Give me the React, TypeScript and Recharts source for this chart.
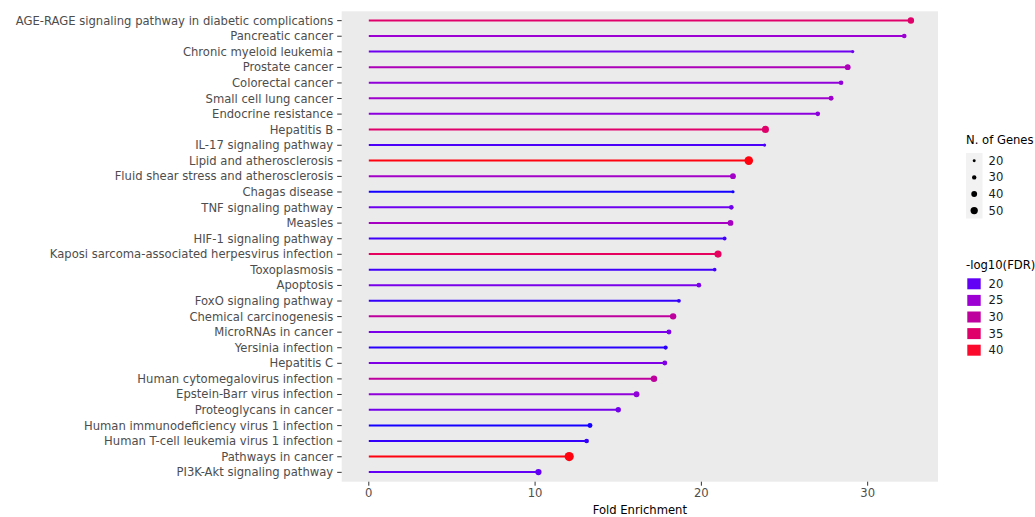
import React from "react";
import { Bar, CartesianGrid, ComposedChart, Label, XAxis, YAxis } from "recharts";

const PATHWAYS = [
  "AGE-RAGE signaling pathway in diabetic complications",
  "Pancreatic cancer",
  "Chronic myeloid leukemia",
  "Prostate cancer",
  "Colorectal cancer",
  "Small cell lung cancer",
  "Endocrine resistance",
  "Hepatitis B",
  "IL-17 signaling pathway",
  "Lipid and atherosclerosis",
  "Fluid shear stress and atherosclerosis",
  "Chagas disease",
  "TNF signaling pathway",
  "Measles",
  "HIF-1 signaling pathway",
  "Kaposi sarcoma-associated herpesvirus infection",
  "Toxoplasmosis",
  "Apoptosis",
  "FoxO signaling pathway",
  "Chemical carcinogenesis",
  "MicroRNAs in cancer",
  "Yersinia infection",
  "Hepatitis C",
  "Human cytomegalovirus infection",
  "Epstein-Barr virus infection",
  "Proteoglycans in cancer",
  "Human immunodeficiency virus 1 infection",
  "Human T-cell leukemia virus 1 infection",
  "Pathways in cancer",
  "PI3K-Akt signaling pathway",
];

const FOLD_ENRICHMENT = [
  32.6, 32.2, 29.1, 28.8, 28.4, 27.8, 27.0, 23.85, 23.8, 22.85, 21.9, 21.9,
  21.8, 21.75, 21.4, 21.0, 20.8, 19.85, 18.65, 18.3, 18.05, 17.85, 17.8,
  17.15, 16.1, 15.0, 13.3, 13.1, 12.05, 10.2,
];

const NEG_LOG10_FDR = [
  35, 25, 21, 27.5, 24, 25.5, 23.5, 35, 19, 41, 26, 16.5, 21, 26.5, 18.5, 36,
  18.5, 22, 18, 30, 22, 17.5, 22.5, 30, 24, 21.5, 16.5, 18, 41, 20,
];

const GENE_COUNTS = [
  44, 32, 22, 40, 32, 34, 32, 49, 22, 59, 40, 22, 32, 40, 26, 49, 25, 32, 26,
  44, 34, 29, 34, 44, 40, 37, 34, 32, 63, 43,
];

const SIZE_BREAKS = [20, 30, 40, 50];
const FDR_BREAKS = [20, 25, 30, 35, 40];
const X_TICKS = [0, 10, 20, 30];

// colour stops of the -log10(FDR) scale
const COLOR_STOP_VALUES = [16.5, 20, 25, 30, 35, 40, 41.5];
const COLOR_STOP_HEX = ["#1400ff", "#6200f6", "#9c00d2", "#be009e", "#df006a", "#fc0a2e", "#ff0000"];

const FONT = "'DejaVu Sans', sans-serif";
const FONT_SIZE = 11.6;

function hexToRgb(hex: string) {
  const n = parseInt(hex.slice(1), 16);
  return [(n >> 16) & 255, (n >> 8) & 255, n & 255];
}

function fdrColor(v: number) {
  const vals = COLOR_STOP_VALUES;
  if (v <= vals[0]) return COLOR_STOP_HEX[0];
  if (v >= vals[vals.length - 1]) return COLOR_STOP_HEX[vals.length - 1];
  let i = 0;
  while (v > vals[i + 1]) i++;
  const t = (v - vals[i]) / (vals[i + 1] - vals[i]);
  const a = hexToRgb(COLOR_STOP_HEX[i]);
  const b = hexToRgb(COLOR_STOP_HEX[i + 1]);
  const c = a.map((x, k) => Math.round(x + (b[k] - x) * t));
  return `rgb(${c[0]},${c[1]},${c[2]})`;
}

const dotRadius = (genes: number) => 0.073 * genes;

const data = PATHWAYS.map((name, i) => ({
  name,
  fold: FOLD_ENRICHMENT[i],
  fdr: NEG_LOG10_FDR[i],
  genes: GENE_COUNTS[i],
}));

// stick + head for each pathway
function Lollipop(props: any) {
  const { x, y, width, height, payload } = props;
  const cy = y + height / 2;
  const color = fdrColor(payload.fdr);
  return (
    <g>
      <line x1={x} y1={cy} x2={x + width} y2={cy} stroke={color} strokeWidth={2} />
      <circle cx={x + width} cy={cy} r={dotRadius(payload.genes)} fill={color} />
    </g>
  );
}

// single-line pathway names, right aligned against the tick marks
function PathwayTick(props: any) {
  const { x, y, payload } = props;
  return (
    <text
      x={x}
      y={y}
      textAnchor="end"
      dominantBaseline="central"
      fontSize={FONT_SIZE}
      fontFamily={FONT}
      fill="#4D4D4D"
    >
      {payload.value}
    </text>
  );
}

function Legends() {
  return (
    <svg
      width={1035}
      height={517}
      style={{ position: "absolute", left: 0, top: 0, pointerEvents: "none" }}
      fontFamily={FONT}
      fontSize={FONT_SIZE}
    >
      <text x={966} y={140} dominantBaseline="central" fill="#000">
        N. of Genes
      </text>
      <rect x={966} y={153} width={16.5} height={65.5} fill="#F2F2F2" />
      {SIZE_BREAKS.map((g, i) => {
        const cy = 160.8 + i * 16.6;
        return (
          <g key={g}>
            <circle cx={974.2} cy={cy} r={dotRadius(g)} fill="#000" />
            <text x={988.5} y={cy} dominantBaseline="central" fill="#1a1a1a">
              {g}
            </text>
          </g>
        );
      })}

      <text x={966} y={265} dominantBaseline="central" fill="#000">
        -log10(FDR)
      </text>
      {FDR_BREAKS.map((v, i) => {
        const cy = 283.8 + i * 16.6;
        return (
          <g key={v}>
            <rect x={967.3} y={cy - 5.5} width={13.4} height={11} fill={fdrColor(v)} />
            <text x={988.5} y={cy} dominantBaseline="central" fill="#1a1a1a">
              {v}
            </text>
          </g>
        );
      })}
    </svg>
  );
}

export default function App() {
  return (
    <div style={{ position: "absolute", left: 0, top: 0, width: 1035, height: 517, background: "#fff" }}>
      <ComposedChart
        width={1035}
        height={517}
        data={data}
        layout="vertical"
        margin={{ top: 11.3, right: 97, bottom: 0, left: 0 }}
      >
        <CartesianGrid fill="#EBEBEB" stroke="none" horizontal={false} vertical={false} />
        <XAxis
          type="number"
          dataKey="fold"
          domain={[-1.63, 34.23]}
          ticks={X_TICKS}
          allowDataOverflow
          height={35.3}
          axisLine={false}
          tickSize={4}
          tickMargin={3}
          tickLine={{ stroke: "#333333" }}
          tick={{ fontSize: FONT_SIZE, fill: "#4D4D4D", fontFamily: FONT }}
        >
          <Label
            value="Fold Enrichment"
            position="insideBottom"
            offset={3}
            fill="#000"
            fontSize={FONT_SIZE}
            fontFamily={FONT}
          />
        </XAxis>
        <YAxis
          type="category"
          dataKey="name"
          width={341.7}
          axisLine={false}
          tickSize={4.5}
          tickMargin={4}
          interval={0}
          padding={{ top: 1.56, bottom: 1.56 }}
          tickLine={{ stroke: "#333333" }}
          tick={<PathwayTick />}
        />
        <Bar dataKey="fold" shape={<Lollipop />} isAnimationActive={false} />
      </ComposedChart>
      <Legends />
    </div>
  );
}
